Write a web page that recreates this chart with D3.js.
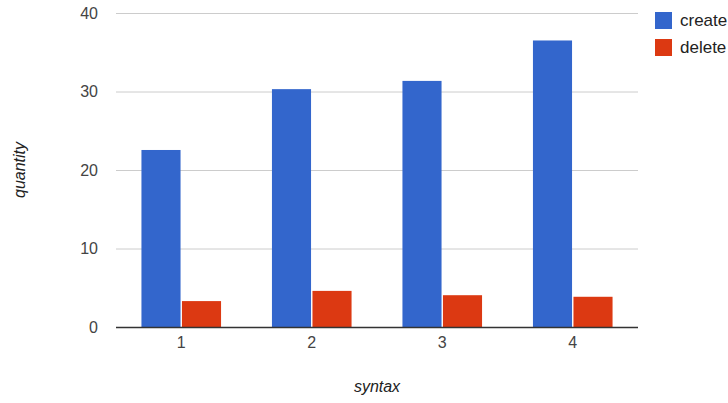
<!DOCTYPE html>
<html>
<head>
<meta charset="utf-8">
<script src="https://cdn.jsdelivr.net/npm/d3@7"></script>
<style>
  html, body { margin: 0; padding: 0; background: #fff; }
  svg { display: block; font-family: "Liberation Sans", Arial, sans-serif; }
</style>
</head>
<body>
<svg id="chart" width="728" height="403"></svg>
<script>
// Grouped column chart: create vs delete counts per syntax level
const categories = ["1", "2", "3", "4"];
const seriesNames = ["create", "delete"];
const createValues = [22.55, 30.3, 31.35, 36.5];
const deleteValues = [3.3, 4.6, 4.05, 3.85];
const yTicks = [0, 10, 20, 30, 40];
const colors = ["#3366cc", "#dc3912"];

const svg = d3.select("#chart");
const plot = { left: 116, right: 638, top: 13, bottom: 327 };

const x = d3.scaleBand()
  .domain(categories)
  .range([plot.left, plot.right])
  .paddingInner(0.39)
  .paddingOuter(0.195);

const xInner = d3.scaleBand()
  .domain(seriesNames)
  .range([0, x.bandwidth()])
  .paddingInner(0.035);

const y = d3.scaleLinear()
  .domain([0, 40])
  .range([plot.bottom, plot.top]);

// gridlines
svg.append("g")
  .selectAll("line")
  .data(yTicks.filter(d => d !== 0))
  .join("line")
  .attr("x1", plot.left)
  .attr("x2", plot.right)
  .attr("y1", d => y(d) + 0.5)
  .attr("y2", d => y(d) + 0.5)
  .attr("stroke", "#cccccc")
  .attr("stroke-width", 1);

// y tick labels
const yAxis = d3.axisLeft(y).tickValues(yTicks).tickSize(0).tickPadding(18);
const yG = svg.append("g").attr("transform", `translate(${plot.left},0)`).call(yAxis);
yG.select(".domain").remove();
yG.selectAll("text")
  .attr("font-size", 16)
  .attr("font-family", "Liberation Sans, Arial, sans-serif")
  .attr("fill", "#444");

// bars
const rows = categories.map((c, i) => ({ cat: c, values: [createValues[i], deleteValues[i]] }));
const groups = svg.append("g")
  .selectAll("g")
  .data(rows)
  .join("g")
  .attr("transform", d => `translate(${x(d.cat)},0)`);

groups.selectAll("rect")
  .data(d => d.values.map((v, j) => ({ name: seriesNames[j], value: v, color: colors[j] })))
  .join("rect")
  .attr("x", d => xInner(d.name))
  .attr("width", xInner.bandwidth())
  .attr("y", d => y(d.value))
  .attr("height", d => y(0) - y(d.value))
  .attr("fill", d => d.color);

// baseline
svg.append("line")
  .attr("x1", plot.left)
  .attr("x2", plot.right)
  .attr("y1", y(0) + 0.5)
  .attr("y2", y(0) + 0.5)
  .attr("stroke", "#333")
  .attr("stroke-width", 1.5);

// x tick labels
const xAxis = d3.axisBottom(x).tickSize(0).tickPadding(10);
const xG = svg.append("g").attr("transform", `translate(0,${plot.bottom})`).call(xAxis);
xG.select(".domain").remove();
xG.selectAll("text")
  .attr("font-size", 16)
  .attr("font-family", "Liberation Sans, Arial, sans-serif")
  .attr("fill", "#444");

// axis titles
svg.append("text")
  .attr("x", (plot.left + plot.right) / 2)
  .attr("y", 392)
  .attr("text-anchor", "middle")
  .attr("font-size", 16)
  .attr("font-style", "italic")
  .attr("fill", "#222")
  .text("syntax");

svg.append("text")
  .attr("transform", `translate(25,${(plot.top + plot.bottom) / 2}) rotate(-90)`)
  .attr("text-anchor", "middle")
  .attr("font-size", 16)
  .attr("font-style", "italic")
  .attr("fill", "#222")
  .text("quantity");

// legend
const legend = svg.append("g")
  .selectAll("g")
  .data(seriesNames)
  .join("g")
  .attr("transform", (d, i) => `translate(655,${12 + i * 27})`);

legend.append("rect")
  .attr("width", 17)
  .attr("height", 17)
  .attr("fill", (d, i) => colors[i]);

legend.append("text")
  .attr("x", 25)
  .attr("y", 14)
  .attr("font-size", 17)
  .attr("fill", "#222")
  .text(d => d);
</script>
</body>
</html>
